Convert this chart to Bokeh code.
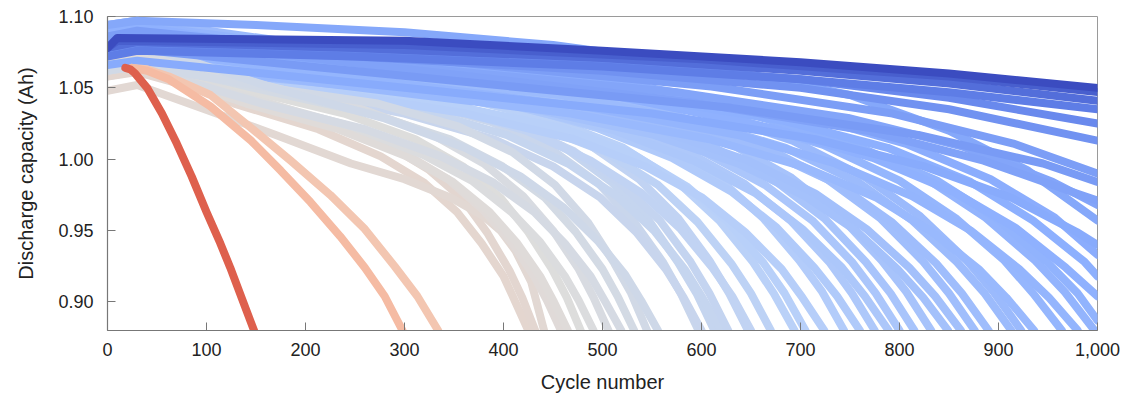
from bokeh.plotting import figure
from bokeh.models import ColumnDataSource, NumeralTickFormatter, FixedTicker, Range1d
from bokeh.transform import log_cmap
from bokeh.embed import file_html
from bokeh.resources import INLINE

# Cycle life of each cell (sets its colour), in drawing order
cycle_life = [
    # cells failing between ~600 and 1,000 cycles
    597, 600, 613, 620, 627, 647, 650, 670, 694, 705, 724, 744, 760,
    775, 789, 800, 815, 832, 849, 862, 876, 890, 913, 923, 936, 964,
    980, 997,
    # cells failing between ~425 and 560 cycles
    425, 432, 441, 458, 465, 478, 491, 506, 519, 532, 545, 556,
    # cells still running at 1,000 cycles
    1010, 1030, 1050, 1075, 1100, 1125, 1150, 1180, 1220, 1260,
    1350, 1450, 1600, 1800, 2000, 2300,
    # shortest-lived cells
    335, 300, 148,
]

# Cycle numbers of the sampled points on each capacity curve
cycle_points = [
    [0, 30, 179, 299, 388, 448, 496, 531, 561, 579, 597],
    [0, 30, 180, 300, 390, 450, 498, 534, 564, 582, 600],
    [0, 30, 184, 307, 398, 460, 509, 546, 576, 595, 613],
    [0, 30, 186, 310, 403, 465, 515, 552, 583, 601, 620],
    [0, 30, 188, 314, 408, 470, 520, 558, 589, 608, 627],
    [0, 30, 194, 324, 421, 485, 537, 576, 608, 628, 647],
    [0, 30, 195, 325, 423, 488, 540, 579, 611, 631, 650],
    [0, 30, 201, 335, 436, 503, 556, 596, 630, 650, 670],
    [0, 30, 208, 347, 451, 521, 576, 618, 652, 673, 694],
    [0, 30, 212, 353, 458, 529, 585, 627, 663, 684, 705],
    [0, 30, 217, 362, 471, 543, 601, 644, 681, 702, 724],
    [0, 30, 223, 372, 484, 558, 618, 662, 699, 722, 744],
    [0, 30, 228, 380, 494, 570, 631, 676, 714, 737, 760],
    [0, 30, 233, 388, 504, 581, 643, 690, 729, 752, 775],
    [0, 30, 237, 395, 513, 592, 655, 702, 742, 765, 789],
    [0, 30, 240, 400, 520, 600, 664, 712, 752, 776, 800],
    [0, 30, 245, 408, 530, 611, 676, 725, 766, 791, 815],
    [0, 30, 250, 416, 541, 624, 691, 740, 782, 807, 832],
    [0, 30, 255, 425, 552, 637, 705, 756, 798, 824, 849],
    [0, 30, 259, 431, 560, 647, 715, 767, 810, 836, 862],
    [0, 30, 263, 438, 569, 657, 727, 780, 823, 850, 876],
    [0, 30, 267, 445, 579, 668, 739, 792, 837, 863, 890],
    [0, 30, 274, 457, 593, 685, 758, 813, 858, 886, 913],
    [0, 30, 277, 462, 600, 692, 766, 821, 868, 895, 923],
    [0, 30, 281, 468, 608, 702, 777, 833, 880, 908, 936],
    [0, 30, 289, 482, 627, 723, 800, 858, 906, 935, 964],
    [0, 30, 294, 490, 637, 735, 813, 872, 921, 951, 980],
    [0, 30, 299, 499, 648, 748, 828, 887, 937, 967, 997],
    [0, 30, 128, 213, 276, 319, 353, 378, 400, 412, 425],
    [0, 30, 130, 216, 281, 324, 359, 384, 406, 419, 432],
    [0, 30, 94, 170, 246, 300, 347, 380, 397, 412, 428, 441],
    [0, 30, 137, 229, 298, 344, 380, 408, 431, 444, 458],
    [0, 30, 140, 233, 302, 349, 386, 414, 437, 451, 465],
    [0, 30, 143, 239, 311, 359, 397, 425, 449, 464, 478],
    [0, 30, 147, 246, 319, 368, 408, 437, 462, 476, 491],
    [0, 30, 152, 253, 329, 380, 420, 450, 476, 491, 506],
    [0, 30, 156, 260, 337, 389, 431, 462, 488, 503, 519],
    [0, 30, 160, 266, 346, 399, 442, 473, 500, 516, 532],
    [0, 30, 164, 273, 354, 409, 452, 485, 512, 529, 545],
    [0, 30, 167, 278, 361, 417, 461, 495, 523, 539, 556],
    [0, 30, 303, 505, 657, 758, 838, 899, 949, 980, 1000],
    [0, 30, 309, 515, 670, 773, 855, 917, 968, 1000],
    [0, 30, 315, 525, 683, 788, 872, 935, 987, 1000],
    [0, 30, 323, 538, 699, 806, 892, 957, 1000],
    [0, 30, 330, 550, 715, 825, 913, 979, 1000],
    [0, 30, 150, 300, 450, 600, 750, 850, 930, 1000],
    [0, 30, 345, 575, 748, 863, 955, 1000],
    [0, 30, 354, 590, 767, 885, 979, 1000],
    [0, 30, 366, 610, 793, 915, 1000],
    [0, 30, 378, 630, 819, 945, 1000],
    [0, 30, 250, 500, 700, 850, 1000],
    [0, 30, 250, 500, 700, 850, 1000],
    [0, 30, 250, 500, 700, 850, 1000],
    [0, 30, 250, 500, 700, 850, 1000],
    [0, 10, 300, 600, 850, 1000],
    [0, 10, 300, 500, 700, 850, 1000],
    [25, 40, 62, 104, 145, 185, 225, 260, 290, 313, 334],
    [25, 40, 62, 104, 145, 175, 205, 235, 260, 280, 298],
    [18, 23, 28, 40, 55, 70, 85, 100, 114, 124, 136, 148],
]

# Discharge capacity (Ah) at those cycles
capacity_points = [
    [1.070, 1.074, 1.056, 1.043, 1.026, 1.007, 0.983, 0.957, 0.928, 0.906, 0.880],
    [1.066, 1.069, 1.048, 1.032, 1.014, 0.995, 0.973, 0.949, 0.923, 0.903, 0.880],
    [1.078, 1.082, 1.062, 1.047, 1.029, 1.009, 0.984, 0.958, 0.928, 0.906, 0.880],
    [1.074, 1.077, 1.053, 1.036, 1.017, 0.997, 0.974, 0.950, 0.923, 0.903, 0.880],
    [1.066, 1.070, 1.053, 1.041, 1.025, 1.006, 0.982, 0.957, 0.928, 0.906, 0.880],
    [1.086, 1.090, 1.067, 1.051, 1.032, 1.011, 0.986, 0.959, 0.929, 0.906, 0.880],
    [1.082, 1.085, 1.059, 1.040, 1.020, 0.999, 0.976, 0.951, 0.924, 0.904, 0.880],
    [1.062, 1.066, 1.050, 1.039, 1.023, 1.005, 0.982, 0.956, 0.927, 0.906, 0.880],
    [1.074, 1.078, 1.059, 1.045, 1.027, 1.008, 0.984, 0.957, 0.928, 0.906, 0.880],
    [1.058, 1.062, 1.048, 1.037, 1.022, 1.004, 0.981, 0.956, 0.927, 0.906, 0.880],
    [1.066, 1.069, 1.048, 1.032, 1.014, 0.995, 0.973, 0.949, 0.923, 0.903, 0.880],
    [1.090, 1.094, 1.070, 1.053, 1.033, 1.012, 0.986, 0.959, 0.929, 0.907, 0.880],
    [1.090, 1.093, 1.064, 1.044, 1.022, 1.001, 0.977, 0.952, 0.924, 0.904, 0.880],
    [1.070, 1.074, 1.056, 1.043, 1.026, 1.007, 0.983, 0.957, 0.928, 0.906, 0.880],
    [1.082, 1.085, 1.059, 1.040, 1.020, 0.999, 0.976, 0.951, 0.924, 0.904, 0.880],
    [1.066, 1.070, 1.053, 1.041, 1.025, 1.006, 0.982, 0.957, 0.928, 0.906, 0.880],
    [1.078, 1.082, 1.062, 1.047, 1.029, 1.009, 0.984, 0.958, 0.928, 0.906, 0.880],
    [1.094, 1.097, 1.073, 1.055, 1.034, 1.013, 0.987, 0.960, 0.929, 0.907, 0.880],
    [1.074, 1.077, 1.053, 1.036, 1.017, 0.997, 0.974, 0.950, 0.923, 0.903, 0.880],
    [1.082, 1.085, 1.059, 1.040, 1.020, 0.999, 0.976, 0.951, 0.924, 0.904, 0.880],
    [1.086, 1.090, 1.067, 1.051, 1.032, 1.011, 0.986, 0.959, 0.929, 0.906, 0.880],
    [1.062, 1.066, 1.050, 1.039, 1.023, 1.005, 0.982, 0.956, 0.927, 0.906, 0.880],
    [1.074, 1.078, 1.059, 1.045, 1.027, 1.008, 0.984, 0.957, 0.928, 0.906, 0.880],
    [1.094, 1.097, 1.073, 1.055, 1.034, 1.013, 0.987, 0.960, 0.929, 0.907, 0.880],
    [1.066, 1.069, 1.048, 1.032, 1.014, 0.995, 0.973, 0.949, 0.923, 0.903, 0.880],
    [1.082, 1.086, 1.064, 1.049, 1.030, 1.010, 0.985, 0.958, 0.929, 0.906, 0.880],
    [1.074, 1.077, 1.053, 1.036, 1.017, 0.997, 0.974, 0.950, 0.923, 0.903, 0.880],
    [1.090, 1.094, 1.070, 1.053, 1.033, 1.012, 0.986, 0.959, 0.929, 0.907, 0.880],
    [1.062, 1.065, 1.039, 1.021, 1.002, 0.984, 0.963, 0.941, 0.918, 0.900, 0.880],
    [1.058, 1.061, 1.042, 1.028, 1.011, 0.993, 0.972, 0.948, 0.922, 0.903, 0.880],
    [1.048, 1.052, 1.036, 1.017, 0.997, 0.986, 0.973, 0.960, 0.950, 0.936, 0.914, 0.880],
    [1.070, 1.073, 1.045, 1.025, 1.005, 0.986, 0.964, 0.942, 0.918, 0.901, 0.880],
    [1.062, 1.065, 1.039, 1.021, 1.002, 0.984, 0.963, 0.941, 0.918, 0.900, 0.880],
    [1.066, 1.069, 1.048, 1.032, 1.014, 0.995, 0.973, 0.949, 0.923, 0.903, 0.880],
    [1.066, 1.069, 1.042, 1.023, 1.003, 0.985, 0.963, 0.942, 0.918, 0.901, 0.880],
    [1.074, 1.077, 1.053, 1.036, 1.017, 0.997, 0.974, 0.950, 0.923, 0.903, 0.880],
    [1.062, 1.065, 1.039, 1.021, 1.002, 0.984, 0.963, 0.941, 0.918, 0.900, 0.880],
    [1.066, 1.069, 1.048, 1.032, 1.014, 0.995, 0.973, 0.949, 0.923, 0.903, 0.880],
    [1.062, 1.066, 1.050, 1.039, 1.023, 1.005, 0.982, 0.956, 0.927, 0.906, 0.880],
    [1.078, 1.081, 1.050, 1.029, 1.008, 0.988, 0.966, 0.943, 0.919, 0.901, 0.880],
    [1.080, 1.084, 1.063, 1.048, 1.030, 1.009, 0.985, 0.958, 0.928, 0.906, 0.887],
    [1.090, 1.093, 1.064, 1.044, 1.022, 1.001, 0.977, 0.952, 0.924, 0.904],
    [1.074, 1.078, 1.059, 1.045, 1.027, 1.008, 0.984, 0.957, 0.928, 0.918],
    [1.086, 1.090, 1.067, 1.051, 1.032, 1.011, 0.986, 0.959, 0.933],
    [1.066, 1.069, 1.048, 1.032, 1.014, 0.995, 0.973, 0.949, 0.940],
    [1.094, 1.097, 1.094, 1.089, 1.080, 1.066, 1.045, 1.020, 0.992, 0.957],
    [1.078, 1.082, 1.062, 1.047, 1.029, 1.009, 0.984, 0.968],
    [1.082, 1.085, 1.059, 1.040, 1.020, 0.999, 0.976, 0.971],
    [1.086, 1.090, 1.067, 1.051, 1.032, 1.011, 0.990],
    [1.074, 1.077, 1.053, 1.036, 1.017, 0.997, 0.984],
    [1.074, 1.078, 1.072, 1.062, 1.050, 1.035, 1.013],
    [1.078, 1.082, 1.076, 1.067, 1.056, 1.043, 1.025],
    [1.072, 1.076, 1.072, 1.065, 1.056, 1.047, 1.035],
    [1.078, 1.082, 1.078, 1.071, 1.062, 1.053, 1.041],
    [1.078, 1.083, 1.080, 1.070, 1.058, 1.047],
    [1.078, 1.085, 1.083, 1.076, 1.068, 1.060, 1.050],
    [1.064, 1.063, 1.058, 1.045, 1.022, 0.999, 0.975, 0.951, 0.925, 0.904, 0.880],
    [1.064, 1.062, 1.056, 1.037, 1.013, 0.992, 0.970, 0.946, 0.924, 0.904, 0.880],
    [1.064, 1.063, 1.060, 1.050, 1.032, 1.011, 0.988, 0.963, 0.941, 0.924, 0.902, 0.880],
]

x_ticks = [0, 100, 200, 300, 400, 500, 600, 700, 800, 900, 1000]
y_ticks = [0.90, 0.95, 1.00, 1.05, 1.10]

# Diverging blue-grey-red colour scale (coolwarm); short cycle life is red
coolwarm_anchors = [
    (59, 76, 192), (98, 130, 234), (141, 176, 254), (184, 208, 249),
    (221, 221, 221), (245, 196, 173), (244, 154, 123), (222, 96, 77),
    (180, 4, 38),
]


def build_palette(anchors, n=256):
    cols = []
    segs = len(anchors) - 1
    for i in range(n):
        t = i / (n - 1) * segs
        k = min(int(t), segs - 1)
        f = t - k
        a, b = anchors[k], anchors[k + 1]
        r, g, bl = (round(a[j] + (b[j] - a[j]) * f) for j in range(3))
        cols.append("#%02x%02x%02x" % (r, g, bl))
    return cols


palette = list(reversed(build_palette(coolwarm_anchors)))

source = ColumnDataSource(data=dict(
    xs=cycle_points,
    ys=capacity_points,
    life=cycle_life,
))

p = figure(
    width=1126, height=401,
    x_range=Range1d(0, 1000), y_range=Range1d(0.88, 1.10),
    output_backend="svg", toolbar_location=None,
    min_border_left=107, min_border_right=29,
    min_border_top=16, min_border_bottom=71,
)

p.multi_line(
    xs="xs", ys="ys", source=source,
    line_color=log_cmap("life", palette, 100, 2300),
    line_width=8, line_cap="round", line_join="round",
)

font = "Liberation Sans"
p.grid.visible = False
p.outline_line_color = "#9a9a9a"
p.outline_line_width = 1
p.background_fill_color = "white"
p.border_fill_color = "white"

for ax in (p.xaxis[0], p.yaxis[0]):
    ax.axis_line_color = "#777777"
    ax.axis_line_width = 1.2
    ax.major_tick_line_color = "#777777"
    ax.major_tick_in = 8
    ax.major_tick_out = 0
    ax.minor_tick_line_color = None
    ax.major_label_text_font = font
    ax.major_label_text_font_size = "18px"
    ax.major_label_text_color = "#222222"
    ax.axis_label_text_font = font
    ax.axis_label_text_font_size = "20px"
    ax.axis_label_text_font_style = "normal"
    ax.axis_label_text_color = "#222222"

p.xaxis.ticker = FixedTicker(ticks=x_ticks)
p.yaxis.ticker = FixedTicker(ticks=y_ticks)
p.xaxis.formatter = NumeralTickFormatter(format="0,0")
p.yaxis.formatter = NumeralTickFormatter(format="0.00")
p.xaxis.axis_label = "Cycle number"
p.yaxis.axis_label = "Discharge capacity (Ah)"
p.xaxis.major_label_standoff = 12
p.yaxis.major_label_standoff = 14
p.xaxis.axis_label_standoff = 12
p.yaxis.axis_label_standoff = 18

open("out.html", "w").write(file_html(p, INLINE))
